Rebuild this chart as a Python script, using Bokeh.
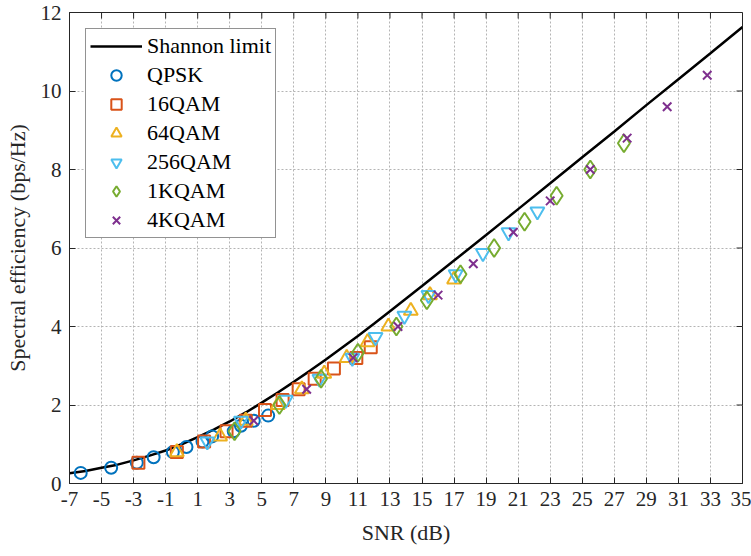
from bokeh.plotting import figure
from bokeh.models import FixedTicker
from bokeh.embed import file_html
from bokeh.resources import INLINE

# ---- data ----
shannon_snr = [-7, -6, -5, -4, -3, -2, -1, 0, 1, 2, 3, 4, 5, 6, 7, 8, 9, 10, 11, 12, 13,
               15, 17, 19, 21, 23, 25, 27, 29, 31, 33, 35]
shannon_se = [0.26, 0.32, 0.40, 0.48, 0.59, 0.71, 0.84, 1.00, 1.18, 1.37, 1.58, 1.81, 2.06,
              2.32, 2.59, 2.87, 3.16, 3.46, 3.76, 4.07, 4.39, 5.03, 5.68, 6.33, 6.99, 7.65,
              8.31, 8.97, 9.64, 10.30, 10.96, 11.63]

qpsk_snr = [-6.3, -4.4, -2.8, -1.75, -0.55, 0.3, 1.3, 1.9, 3.25, 3.7, 4.5, 5.4]
qpsk_se = [0.27, 0.40, 0.53, 0.67, 0.80, 0.93, 1.07, 1.20, 1.33, 1.47, 1.60, 1.73]

qam16_snr = [-2.7, -0.3, 1.4, 2.8, 4.0, 5.2, 6.3, 7.3, 8.3, 9.5, 10.9, 11.8]
qam16_se = [0.53, 0.80, 1.07, 1.33, 1.60, 1.87, 2.13, 2.40, 2.67, 2.93, 3.20, 3.47]

qam64_snr = [-0.3, 2.4, 4.0, 6.0, 7.5, 8.9, 10.3, 11.6, 12.9, 14.3, 15.5, 17.0]
qam64_se = [0.80, 1.20, 1.60, 2.00, 2.40, 2.80, 3.20, 3.60, 4.00, 4.40, 4.80, 5.20]

qam256_snr = [1.6, 3.7, 6.5, 8.6, 10.65, 12.1, 13.9, 15.4, 17.1, 18.8, 20.4, 22.2]
qam256_se = [1.07, 1.60, 2.13, 2.67, 3.20, 3.73, 4.27, 4.80, 5.33, 5.87, 6.40, 6.93]

qam1k_snr = [3.3, 6.1, 8.7, 11.0, 13.4, 15.3, 17.4, 19.5, 21.4, 23.4, 25.5, 27.6]
qam1k_se = [1.33, 2.00, 2.67, 3.33, 4.00, 4.67, 5.33, 6.00, 6.67, 7.33, 8.00, 8.67]

qam4k_snr = [4.5, 7.8, 10.7, 13.5, 16.0, 18.2, 20.7, 23.0, 25.5, 27.8, 30.3, 32.8]
qam4k_se = [1.60, 2.40, 3.20, 4.00, 4.80, 5.60, 6.40, 7.20, 8.00, 8.80, 9.60, 10.40]

x_ticks = [-7, -5, -3, -1, 1, 3, 5, 7, 9, 11, 13, 15, 17, 19, 21, 23, 25, 27, 29, 31, 33, 35]
y_ticks = [0, 2, 4, 6, 8, 10, 12]

X0, X1, Y0, Y1 = -7, 35, 0, 12
W, H = 751, 556
BL, BR, BT, BB = 69, 9, 12, 73
FONT = "Liberation Serif, Times New Roman, Tinos, DejaVu Serif, serif"

p = figure(width=W, height=H, x_range=(X0, X1), y_range=(Y0, Y1),
           output_backend="svg", toolbar_location=None,
           min_border_left=BL, min_border_right=BR, min_border_top=BT, min_border_bottom=BB)
p.background_fill_color = "white"
p.border_fill_color = "white"
p.outline_line_color = "#262626"
p.outline_line_width = 1
p.outline_line_alpha = 1

# axes
for ax, ticks in ((p.xaxis[0], x_ticks), (p.yaxis[0], y_ticks)):
    ax.ticker = FixedTicker(ticks=ticks)
    ax.major_label_overrides = {t: str(t) for t in ticks}
    ax.major_label_text_font = FONT
    ax.major_label_text_font_size = "21px"
    ax.major_label_text_color = "#262626"
    ax.axis_label_text_font = FONT
    ax.axis_label_text_font_size = "22px"
    ax.axis_label_text_font_style = "normal"
    ax.axis_label_text_color = "#262626"
    ax.axis_line_color = "#262626"
    ax.major_tick_line_color = "#262626"
    ax.major_tick_in = 6
    ax.major_tick_out = 0
    ax.minor_tick_line_color = None
    ax.major_label_standoff = 8

p.xaxis.axis_label = "SNR (dB)"
p.xaxis.axis_label_standoff = 11
p.yaxis.axis_label = "Spectral efficiency (bps/Hz)"
p.yaxis.axis_label_standoff = 8

# mirrored inward ticks on the right and top edges of the box (6 px long)
fw = W - BL - BR
fh = H - BT - BB
dx = 6 * (X1 - X0) / fw
dy = 6 * (Y1 - Y0) / fh
p.segment(x0=[X1] * len(y_ticks), y0=y_ticks, x1=[X1 - dx] * len(y_ticks), y1=y_ticks,
          line_color="#262626", line_width=1)
p.segment(x0=x_ticks, y0=[Y1] * len(x_ticks), x1=x_ticks, y1=[Y1 - dy] * len(x_ticks),
          line_color="#262626", line_width=1)

# grid
p.xgrid.ticker = FixedTicker(ticks=x_ticks)
p.ygrid.ticker = FixedTicker(ticks=y_ticks)
for g in (p.xgrid, p.ygrid):
    g.grid_line_color = "#b4b4b4"
    g.grid_line_dash = "2 2"
    g.grid_line_width = 1

# glyphs
p.line(shannon_snr, shannon_se, line_color="black", line_width=2.5, legend_label="Shannon limit")
p.scatter(qpsk_snr, qpsk_se, marker="circle", size=12, fill_color=None,
          line_color="#0072BD", line_width=2, legend_label="QPSK")
p.scatter(qam16_snr, qam16_se, marker="square", size=12, fill_color=None,
          line_color="#D95319", line_width=2, legend_label="16QAM")
p.scatter(qam64_snr, qam64_se, marker="triangle", size=14, fill_color=None,
          line_color="#EDB120", line_width=2, legend_label="64QAM")
p.scatter(qam256_snr, qam256_se, marker="inverted_triangle", size=14, fill_color=None,
          line_color="#4DBEEE", line_width=2, legend_label="256QAM")
p.scatter(qam1k_snr, qam1k_se, marker="diamond", size=18, fill_color=None,
          line_color="#77AC30", line_width=2, legend_label="1KQAM")
p.scatter(qam4k_snr, qam4k_se, marker="x", size=12,
          line_color="#7E2F8E", line_width=2, legend_label="4KQAM")

lg = p.legend[0]
lg.location = "top_left"
lg.margin = 16
lg.padding = 4
lg.spacing = 3
lg.label_height = 26
lg.glyph_height = 26
lg.glyph_width = 52
lg.label_standoff = 5
lg.label_text_font = FONT
lg.label_text_font_size = "22px"
lg.label_text_color = "black"
lg.border_line_color = "#262626"
lg.border_line_width = 1
lg.background_fill_color = "white"
lg.background_fill_alpha = 1

open("out.html", "w").write(file_html(p, INLINE))
